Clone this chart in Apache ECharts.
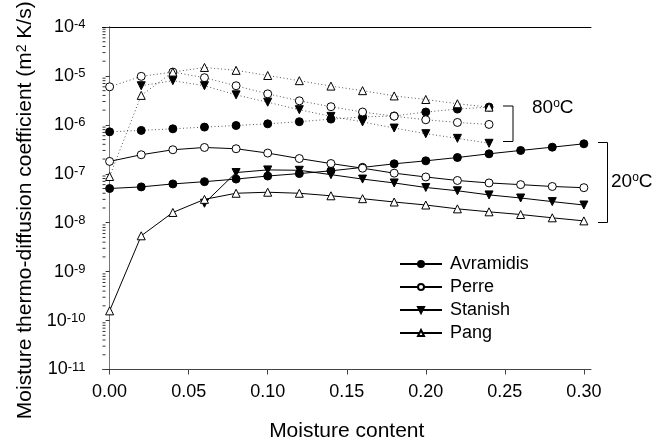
<!DOCTYPE html>
<html>
<head>
<meta charset="UTF-8">
<title>Moisture thermo-diffusion coefficient</title>
<style>
  html, body { margin: 0; padding: 0; background: #fff; }
  #chart { width: 665px; height: 442px; }
</style>
</head>
<body>
<div id="chart"></div>
<script src="https://cdn.jsdelivr.net/npm/echarts@6/dist/echarts.min.js"></script>
<script>
// moisture content (x)
var x20 = [0, 0.02, 0.04, 0.06, 0.08, 0.10, 0.12, 0.14, 0.16, 0.18, 0.20, 0.22, 0.24, 0.26, 0.28, 0.30];
var x80 = [0, 0.02, 0.04, 0.06, 0.08, 0.10, 0.12, 0.14, 0.16, 0.18, 0.20, 0.22, 0.24];

// 20 C, solid lines
var avramidis20 = [5.0e-8, 5.4e-8, 6.2e-8, 6.9e-8, 7.8e-8, 9.0e-8, 1.01e-7, 1.15e-7, 1.35e-7, 1.6e-7, 1.84e-7, 2.15e-7, 2.56e-7, 3.0e-7, 3.5e-7, 4.1e-7];
var perre20 = [1.79e-7, 2.45e-7, 3.1e-7, 3.45e-7, 3.25e-7, 2.65e-7, 2.05e-7, 1.62e-7, 1.3e-7, 1.03e-7, 8.6e-8, 7.3e-8, 6.5e-8, 6.0e-8, 5.5e-8, 5.2e-8];
var stanish20 = [null, null, null, 2.5e-8, 1.06e-7, 1.2e-7, 1.18e-7, 9.6e-8, 7.8e-8, 6.5e-8, 5.25e-8, 4.5e-8, 3.7e-8, 3.2e-8, 2.7e-8, 2.3e-8];
var pang20 = [1.58e-10, 5.4e-9, 1.62e-8, 3.0e-8, 4.0e-8, 4.2e-8, 4.0e-8, 3.55e-8, 3.1e-8, 2.65e-8, 2.3e-8, 1.92e-8, 1.67e-8, 1.47e-8, 1.26e-8, 1.09e-8];

// 80 C, dotted lines
var avramidis80 = [7.2e-7, 7.7e-7, 8.3e-7, 9.0e-7, 9.7e-7, 1.05e-6, 1.16e-6, 1.31e-6, 1.45e-6, 1.52e-6, 1.83e-6, 2.1e-6, 2.31e-6];
var perre80 = [6.0e-6, 9.8e-6, 1.2e-5, 9.2e-6, 6.3e-6, 4.3e-6, 3.1e-6, 2.35e-6, 1.83e-6, 1.5e-6, 1.27e-6, 1.12e-6, 1.02e-6];
var stanish80 = [null, 6.3e-6, 8.0e-6, 6.3e-6, 4.1e-6, 2.9e-6, 2.04e-6, 1.49e-6, 1.15e-6, 8.6e-7, 6.6e-7, 5.3e-7, 4.2e-7];
var pang80 = [8.8e-8, 4.0e-6, 1.2e-5, 1.49e-5, 1.3e-5, 1.02e-5, 8.0e-6, 6.2e-6, 5.0e-6, 3.9e-6, 3.3e-6, 2.7e-6, 2.3e-6];

// tick labels
var xTicks = [0, 0.05, 0.10, 0.15, 0.20, 0.25, 0.30];
var yTicks = [1e-11, 1e-10, 1e-9, 1e-8, 1e-7, 1e-6, 1e-5, 1e-4];

var FONT = 'Liberation Sans';
var X_MIN = -0.0045, X_MAX = 0.3045;

function pairs(xs, ys) {
  var out = [];
  for (var i = 0; i < xs.length; i++) {
    if (ys[i] != null) out.push([xs[i], ys[i]]);
  }
  return out;
}

// minor log ticks 2..9 per decade
var minorY = [];
for (var e = -11; e < -4; e++) {
  for (var k = 2; k <= 9; k++) minorY.push([X_MIN, k * Math.pow(10, e)]);
}

var marks = {
  Avramidis: { symbol: 'circle', rotate: 0, fill: '#000' },
  Perre: { symbol: 'circle', rotate: 0, fill: '#fff' },
  Stanish: { symbol: 'triangle', rotate: 180, fill: '#000' },
  Pang: { symbol: 'triangle', rotate: 0, fill: '#fff' }
};

function lineSeries(name, key, data, dotted) {
  var m = marks[key];
  return {
    name: name,
    type: 'line',
    data: data,
    symbol: m.symbol,
    symbolRotate: m.rotate,
    symbolSize: 8,
    showAllSymbol: true,
    animation: false,
    z: dotted ? 2 : 3,
    itemStyle: { color: m.fill, borderColor: '#000', borderWidth: 1 },
    lineStyle: dotted
      ? { color: '#555', width: 1, type: [1, 2.5] }
      : { color: '#000', width: 1 }
  };
}

var chart = echarts.init(document.getElementById('chart'));
chart.setOption({
  animation: false,
  grid: { left: 102.5, right: 74, top: 27, bottom: 72.5, outerBoundsMode: 'none' },
  legend: {
    data: ['Avramidis', 'Perre', 'Stanish', 'Pang'],
    orient: 'vertical',
    left: 399,
    top: 255,
    padding: 0,
    itemWidth: 42,
    itemHeight: 7.5,
    itemGap: 5,
    textStyle: { fontFamily: FONT, fontSize: 18, color: '#000', padding: [0, 0, 0, 3] }
  },
  xAxis: [{
    type: 'value',
    min: X_MIN,
    max: X_MAX,
    name: 'Moisture content',
    nameLocation: 'middle',
    nameGap: 51,
    nameTextStyle: { fontFamily: FONT, fontSize: 21, color: '#000' },
    axisLine: { show: true, lineStyle: { color: '#444', width: 1 } },
    axisTick: { show: true, length: 5, lineStyle: { color: '#444' }, customValues: xTicks },
    axisLabel: {
      fontFamily: FONT, fontSize: 18, color: '#000', margin: 14,
      customValues: xTicks,
      formatter: function (v) { return v.toFixed(2); }
    },
    splitLine: { show: false }
  }, {
    type: 'value', position: 'top', min: X_MIN, max: X_MAX,
    axisLine: { show: true, onZero: false, lineStyle: { color: '#000', width: 1 } },
    axisTick: { show: false }, axisLabel: { show: false }, splitLine: { show: false }
  }],
  yAxis: [{
    type: 'log',
    logBase: 10,
    min: 1e-11,
    max: 1e-4,
    name: 'Moisture thermo-diffusion coefficient (m{sup|2} K/s)',
    nameLocation: 'middle',
    nameGap: 56,
    nameTextStyle: {
      fontFamily: FONT, fontSize: 21, color: '#000', padding: [0, 24, 0, 0],
      rich: { sup: { fontFamily: FONT, fontSize: 14, color: '#000', verticalAlign: 'top', lineHeight: 14 } }
    },
    axisLine: { show: true, lineStyle: { color: '#333', width: 1 } },
    axisTick: { show: true, length: 4, lineStyle: { color: '#333' }, customValues: yTicks },
    axisLabel: {
      fontFamily: FONT, fontSize: 18, color: '#000', margin: 17,
      customValues: yTicks,
      formatter: function (v) { return '10{sup|' + Math.round(Math.log10(v)) + '}'; },
      rich: { sup: { fontFamily: FONT, fontSize: 13, color: '#000', verticalAlign: 'top', lineHeight: 13 } }
    },
    splitLine: { show: false }
  }, {
    type: 'log', logBase: 10, position: 'right', min: 1e-11, max: 1e-4,
    axisLine: { show: true, lineStyle: { color: '#777', width: 1 } },
    axisTick: { show: false }, axisLabel: { show: false }, splitLine: { show: false }
  }],
  series: [
    {
      name: 'minor ticks',
      type: 'custom',
      silent: true,
      animation: false,
      clip: false,
      data: minorY,
      renderItem: function (params, api) {
        var p = api.coord([api.value(0), api.value(1)]);
        return {
          type: 'line',
          shape: { x1: p[0], y1: p[1], x2: p[0] + 3, y2: p[1] },
          style: { stroke: '#333', lineWidth: 1 }
        };
      }
    },
    lineSeries('Avramidis 80', 'Avramidis', pairs(x80, avramidis80), true),
    lineSeries('Perre 80', 'Perre', pairs(x80, perre80), true),
    lineSeries('Stanish 80', 'Stanish', pairs(x80, stanish80), true),
    lineSeries('Pang 80', 'Pang', pairs(x80, pang80), true),
    lineSeries('Avramidis', 'Avramidis', pairs(x20, avramidis20), false),
    lineSeries('Perre', 'Perre', pairs(x20, perre20), false),
    lineSeries('Stanish', 'Stanish', pairs(x20, stanish20), false),
    lineSeries('Pang', 'Pang', pairs(x20, pang20), false)
  ],
  graphic: [
    {
      type: 'polyline',
      shape: { points: [[503, 106], [513, 106], [513, 141.5], [503, 141.5]] },
      style: { stroke: '#000', lineWidth: 1, fill: null }
    },
    {
      type: 'text', left: 532, top: 98,
      style: {
        text: '80{o|o}C', fontFamily: FONT, fontSize: 19, fill: '#000',
        rich: { o: { fontFamily: FONT, fontSize: 12, verticalAlign: 'top', lineHeight: 12 } }
      }
    },
    {
      type: 'polyline',
      shape: { points: [[598, 142.5], [607.5, 142.5], [607.5, 222.5], [598, 222.5]] },
      style: { stroke: '#000', lineWidth: 1, fill: null }
    },
    {
      type: 'text', left: 611, top: 172,
      style: {
        text: '20{o|o}C', fontFamily: FONT, fontSize: 19, fill: '#000',
        rich: { o: { fontFamily: FONT, fontSize: 12, verticalAlign: 'top', lineHeight: 12 } }
      }
    }
  ]
});
</script>
</body>
</html>
